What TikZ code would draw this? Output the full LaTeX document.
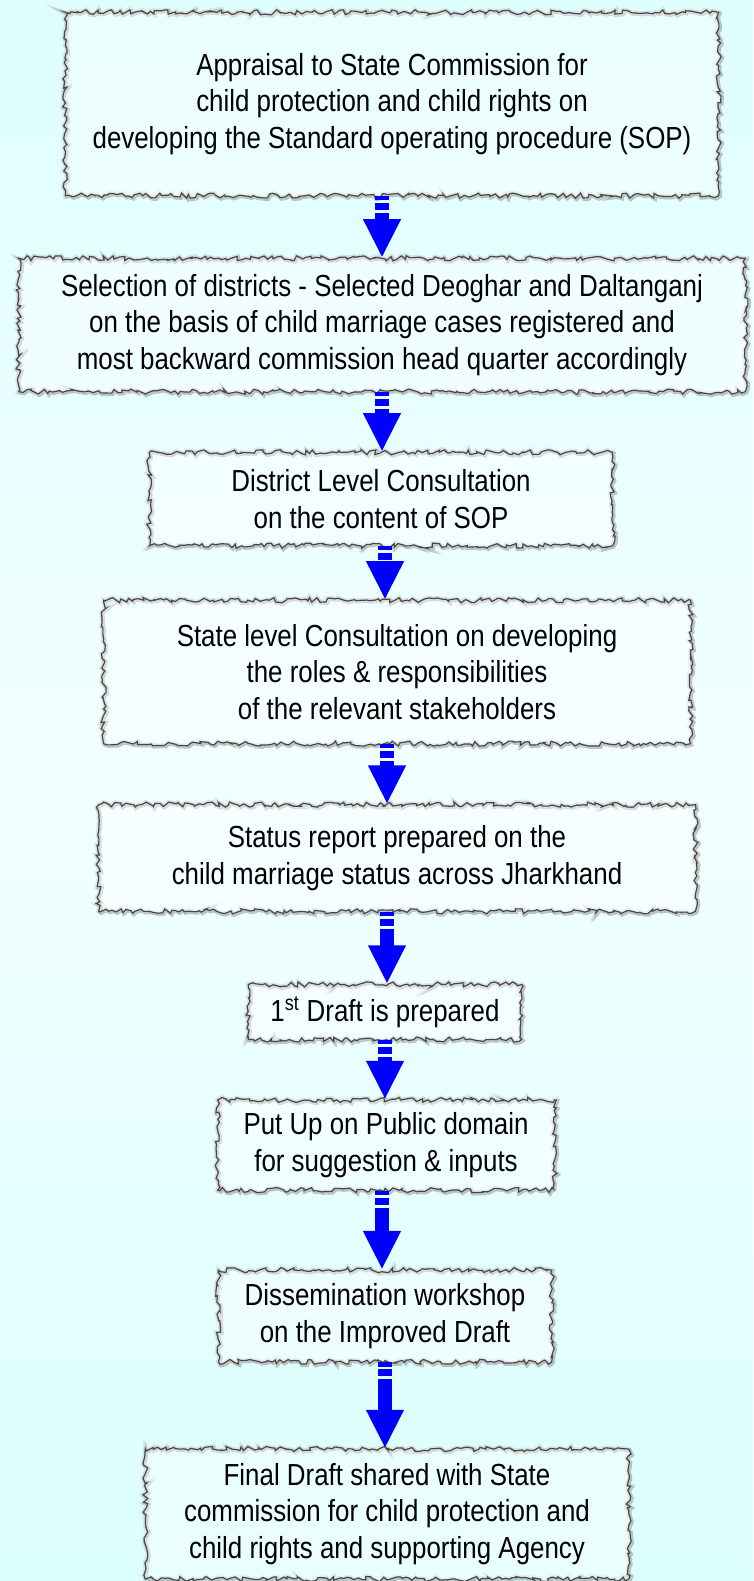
\documentclass[tikz,border=0pt]{standalone}
\usepackage{fontspec}
\newfontfamily\narrowfont{Liberation Sans}[FakeStretch=0.85]
\usetikzlibrary{arrows.meta,decorations.pathmorphing}
\definecolor{bgtop}{HTML}{DEFEFE}
\definecolor{bgmid}{HTML}{F2FFFF}
\definecolor{bgbot}{HTML}{DBFEFE}
\definecolor{flowblue}{HTML}{0000FF}
\begin{document}
\begin{tikzpicture}[x=0.03cm, y=-0.03cm,
torn node/.style={rectangle, align=center, fill=white, fill opacity=.4, text opacity=1,
  draw=gray!55!black, line width=1pt, decorate,
  decoration={random steps, segment length=3pt, amplitude=2.2pt},
  preaction={draw=gray!60!black, line width=3pt, opacity=.35, transform canvas={xshift=1pt, yshift=-1pt}},
  preaction={draw=gray!40, line width=4pt, opacity=.5}},
flow/.style={draw=flowblue, line width=12pt, -{Triangle[width=30pt, length=33pt]},
  dash pattern=on 3.5pt off 2.5pt on 6pt off 2.5pt on 200pt}]
\pgfmathsetseed{7}
\useasboundingbox (0,0) rectangle (753,1581);
\shade[top color=bgtop, bottom color=bgbot, middle color=bgmid] (0,0) rectangle (753,1581);
\begin{scope}[every node/.style={font=\narrowfont\fontsize{26}{31}\selectfont}]
\node[torn node, minimum width=19.6cm, minimum height=5.5cm] (s1) at (392,104) {Appraisal to State Commission for\\ child protection and child rights on\\ developing the Standard operating procedure (SOP)};
\node[torn node, minimum width=21.8cm, minimum height=4cm] (s2) at (382,325) {Selection of districts - Selected Deoghar and Daltanganj\\ on the basis of child marriage cases registered and\\ most backward commission head quarter accordingly};
\node[torn node, minimum width=13.9cm, minimum height=2.8cm] (s3) at (381,499) {District Level Consultation\\ on the content of SOP};
\node[torn node, minimum width=17.6cm, minimum height=4.3cm] (s4) at (397,672) {State level Consultation on developing\\ the roles \& responsibilities\\ of the relevant stakeholders};
\node[torn node, minimum width=17.9cm, minimum height=3.2cm] (s5) at (397,858) {Status report prepared on the\\ child marriage status across Jharkhand};
\node[torn node, minimum width=8.2cm, minimum height=1.65cm] (s6) at (385,1012) {1\textsuperscript{st} Draft is prepared};
\node[torn node, minimum width=10.1cm, minimum height=2.7cm] (s7) at (386,1145) {Put Up on Public domain\\ for suggestion \& inputs};
\node[torn node, minimum width=10cm, minimum height=2.75cm] (s8) at (385,1316) {Dissemination workshop\\ on the Improved Draft};
\node[torn node, minimum width=14.5cm, minimum height=3.9cm] (s9) at (387,1514) {Final Draft shared with State\\ commission for child protection and\\ child rights and supporting Agency};
\end{scope}
\draw [flow] (s1.south -| 382,0) -- (s2.north -| 382,0);
\draw [flow] (s2.south -| 382,0) -- (s3.north -| 382,0);
\draw [flow] (s3.south -| 385,0) -- (s4.north -| 385,0);
\draw [flow] (s4.south -| 387,0) -- (s5.north -| 387,0);
\draw [flow] (s5.south -| 387,0) -- (s6.north -| 387,0);
\draw [flow] (s6.south -| 385,0) -- (s7.north -| 385,0);
\draw [flow] (s7.south -| 382,0) -- (s8.north -| 382,0);
\draw [flow] (s8.south -| 385,0) -- (s9.north -| 385,0);
\end{tikzpicture}
\end{document}
